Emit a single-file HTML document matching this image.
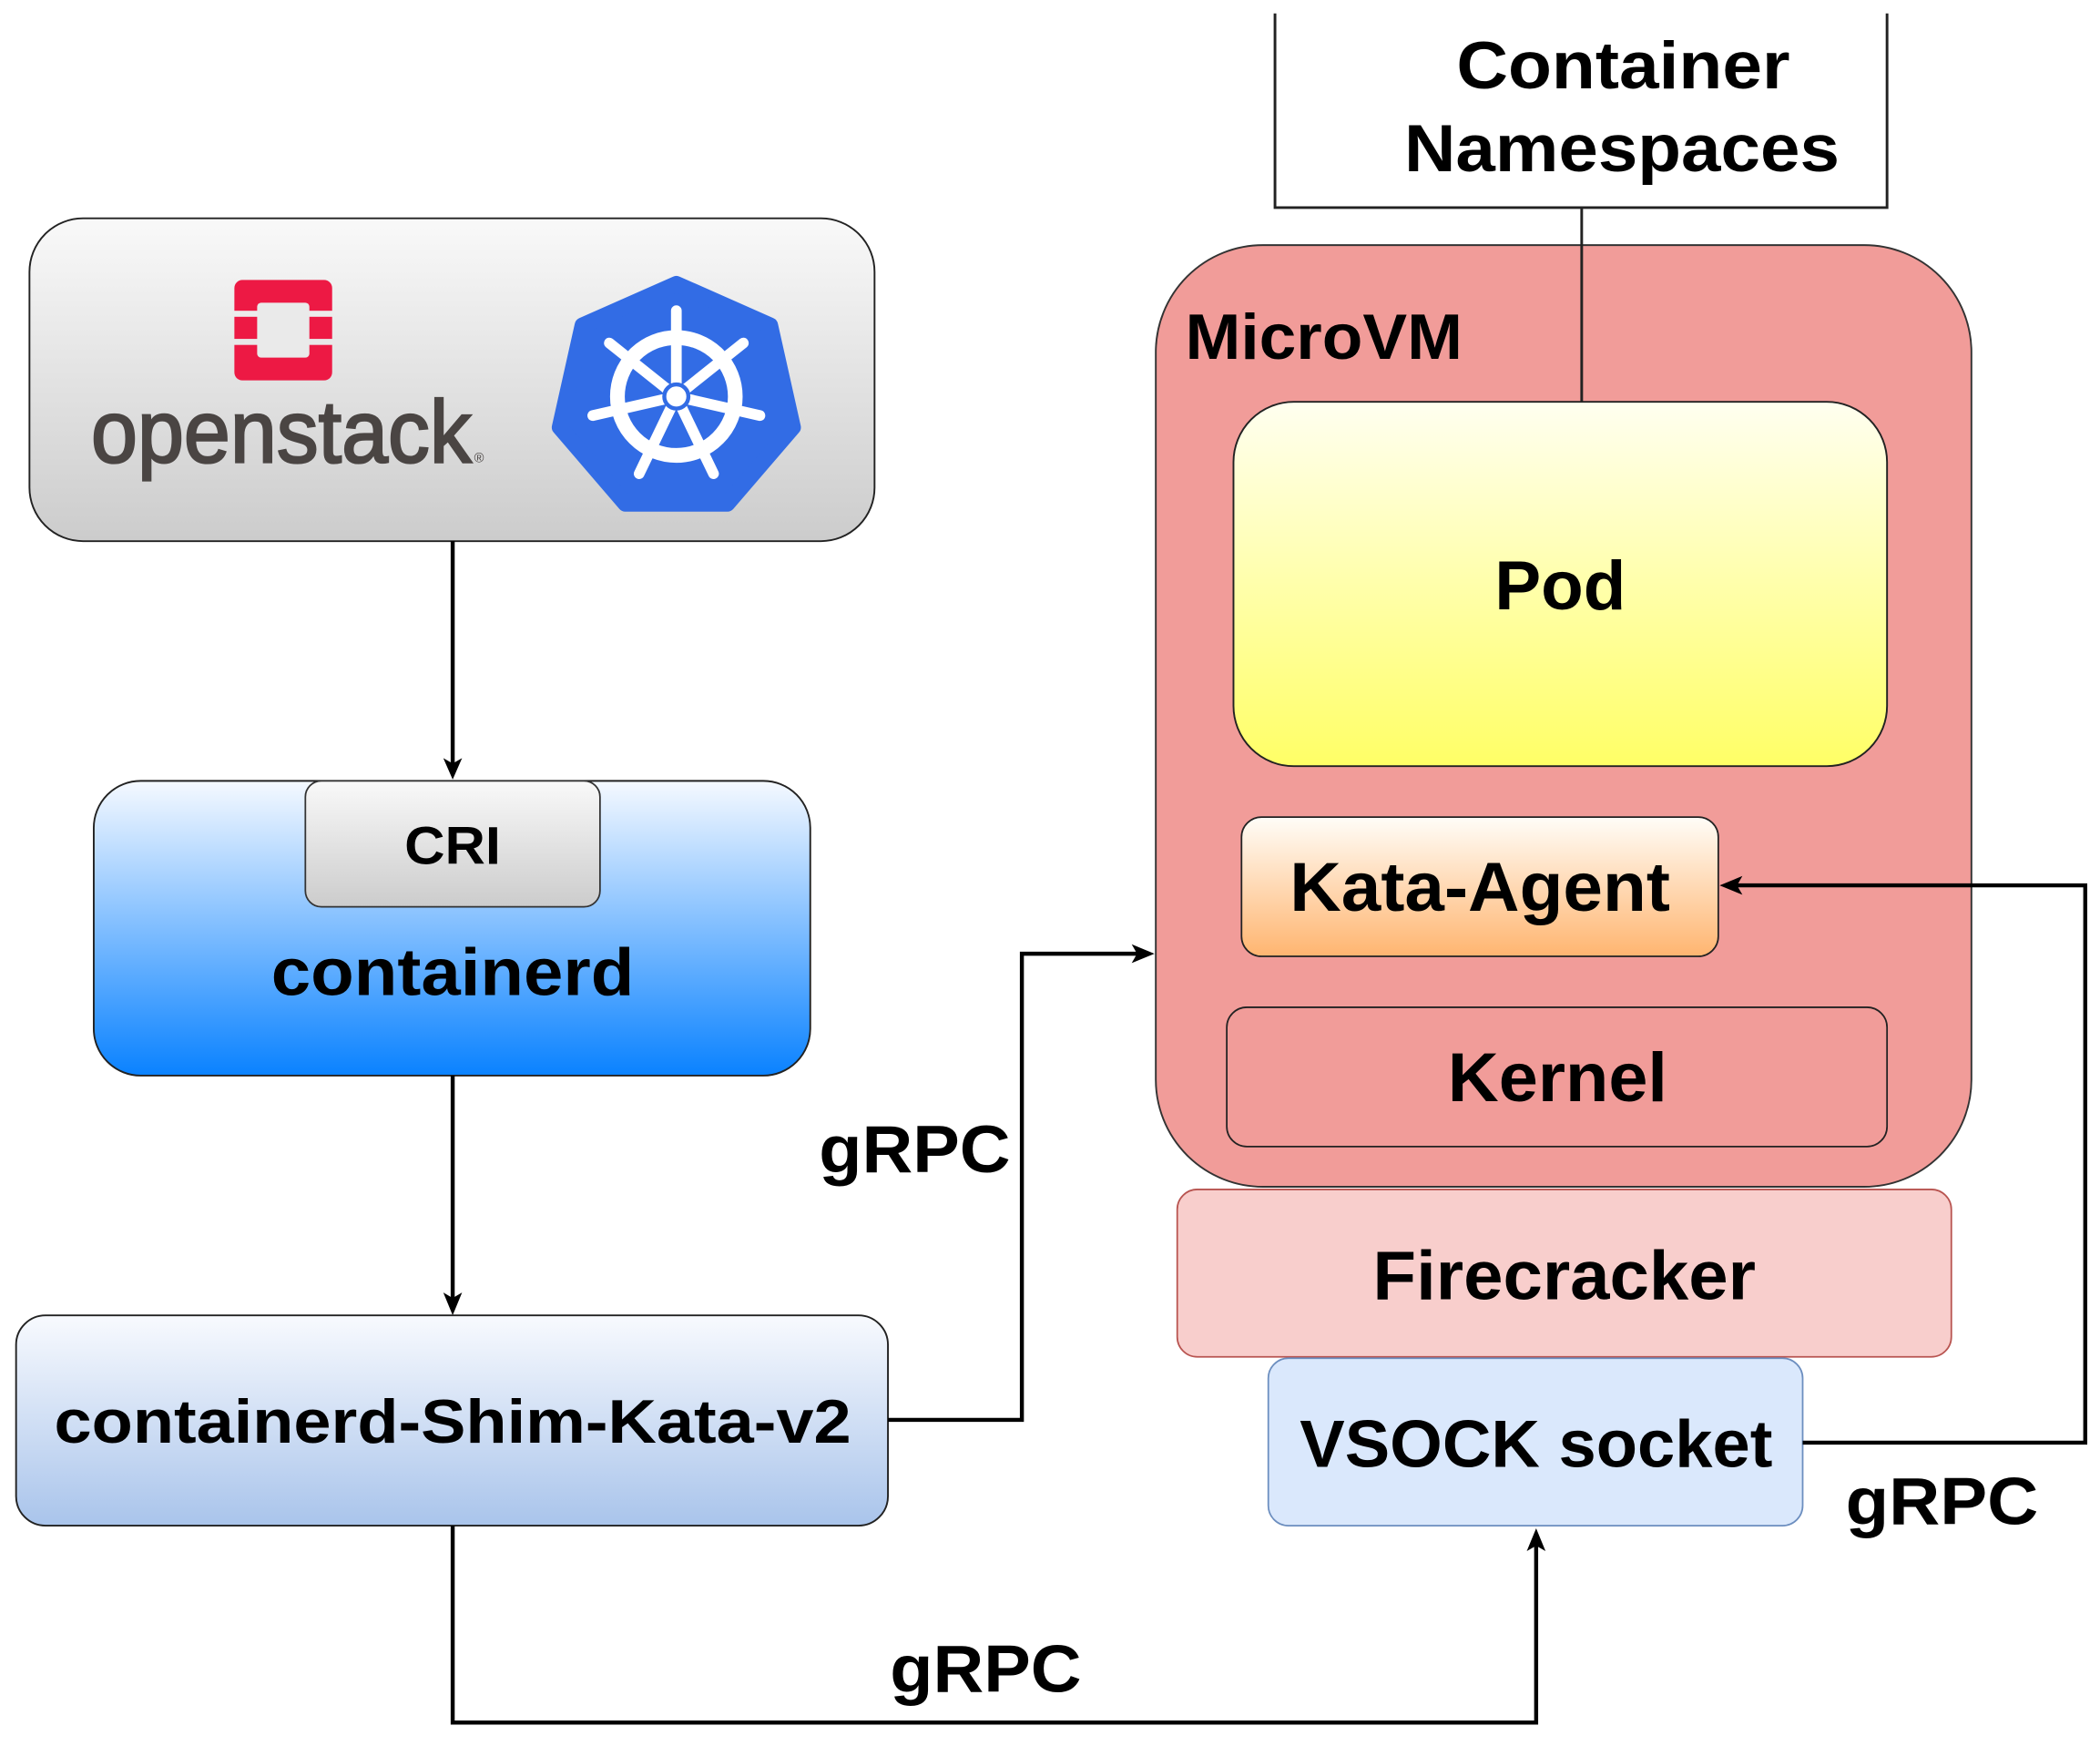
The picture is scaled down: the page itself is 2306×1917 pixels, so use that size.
<!DOCTYPE html>
<html><head><meta charset="utf-8"><style>
html,body{margin:0;padding:0;background:#fff;}
svg{display:block;}
text{font-family:"Liberation Sans",Arial,sans-serif;font-weight:bold;fill:#000;}
</style></head><body>
<svg width="2306" height="1917" viewBox="0 0 1568 1303.5" xmlns="http://www.w3.org/2000/svg">
<defs>
<linearGradient id="gGray" x1="0" y1="0" x2="0" y2="1"><stop offset="0" stop-color="#f9f9f9"/><stop offset="1" stop-color="#cccccc"/></linearGradient>
<linearGradient id="gBlue" x1="0" y1="0" x2="0" y2="1"><stop offset="0" stop-color="#f5f9ff"/><stop offset="1" stop-color="#0a82ff"/></linearGradient>
<linearGradient id="gShim" x1="0" y1="0" x2="0" y2="1"><stop offset="0" stop-color="#f8fafe"/><stop offset="1" stop-color="#a9c4eb"/></linearGradient>
<linearGradient id="gPod" x1="0" y1="0" x2="0" y2="1"><stop offset="0" stop-color="#fffff0"/><stop offset="1" stop-color="#ffff66"/></linearGradient>
<linearGradient id="gKata" x1="0" y1="0" x2="0" y2="1"><stop offset="0" stop-color="#fffdf8"/><stop offset="1" stop-color="#ffb570"/></linearGradient>
</defs>

<rect x="22" y="163" width="631" height="241" rx="40" fill="url(#gGray)" stroke="#222" stroke-width="1.3"/>
<rect x="175" y="209" width="73" height="75" rx="6" fill="#ed1944"/>
<rect x="174" y="232" width="75" height="4.5" fill="#ececec"/>
<rect x="174" y="253" width="75" height="4.5" fill="#e8e8e8"/>
<rect x="192" y="226" width="39" height="41" rx="3" fill="#eaeaea"/>
<text x="68" y="345" font-size="66" textLength="284" lengthAdjust="spacingAndGlyphs" style="font-weight:normal;fill:#4a4543;stroke:#4a4543;stroke-width:1.6">openstack</text>
<text x="354" y="345" font-size="10" style="font-weight:normal;fill:#4a4543">®</text>
<polygon points="505,212 575,243 592,319 543,376 467,376 418,319 435,243" fill="#326ce5" stroke="#326ce5" stroke-width="12" stroke-linejoin="round"/>
<g transform="translate(505,296)" stroke="#fff" stroke-linecap="round" fill="none">
<circle r="44" stroke-width="11"/>
<g stroke-width="8">
<line x1="0" y1="0" x2="0" y2="-64"/>
<line x1="0" y1="0" x2="0" y2="-64" transform="rotate(51.43)"/>
<line x1="0" y1="0" x2="0" y2="-64" transform="rotate(102.86)"/>
<line x1="0" y1="0" x2="0" y2="-64" transform="rotate(154.29)"/>
<line x1="0" y1="0" x2="0" y2="-64" transform="rotate(205.71)"/>
<line x1="0" y1="0" x2="0" y2="-64" transform="rotate(257.14)"/>
<line x1="0" y1="0" x2="0" y2="-64" transform="rotate(308.57)"/>
</g>
<circle r="9" fill="#fff" stroke="#326ce5" stroke-width="3"/>
</g>

<line x1="338" y1="404" x2="338" y2="572" stroke="#000" stroke-width="3"/>
<polygon points="338,582 331,566 338,570 345,566" fill="#000"/>

<rect x="70" y="583" width="535" height="220" rx="35" fill="url(#gBlue)" stroke="#222" stroke-width="1.3"/>
<rect x="228" y="583" width="220" height="94" rx="12" fill="url(#gGray)" stroke="#333" stroke-width="1.2"/>
<text x="338" y="645" font-size="40" text-anchor="middle" textLength="72" lengthAdjust="spacingAndGlyphs">CRI</text>
<text x="338" y="743" font-size="50" text-anchor="middle" textLength="271" lengthAdjust="spacingAndGlyphs">containerd</text>

<line x1="338" y1="803" x2="338" y2="971" stroke="#000" stroke-width="3"/>
<polygon points="338,982 331,965 338,969 345,965" fill="#000"/>

<rect x="12" y="982" width="651" height="157" rx="22" fill="url(#gShim)" stroke="#222" stroke-width="1.3"/>
<text x="338" y="1077" font-size="46" text-anchor="middle" textLength="595" lengthAdjust="spacingAndGlyphs">containerd-Shim-Kata-v2</text>

<polyline points="663,1060 763,1060 763,712 852,712" fill="none" stroke="#000" stroke-width="3"/>
<polygon points="862,712 845,705 849,712 845,719" fill="#000"/>
<text x="683" y="875" font-size="50" text-anchor="middle" textLength="143" lengthAdjust="spacingAndGlyphs">gRPC</text>

<polyline points="338,1139 338,1286 1147,1286 1147,1152" fill="none" stroke="#000" stroke-width="3"/>
<polygon points="1147,1141 1140,1158 1147,1154 1154,1158" fill="#000"/>
<text x="736" y="1263" font-size="50" text-anchor="middle" textLength="143" lengthAdjust="spacingAndGlyphs">gRPC</text>

<polyline points="952,10 952,155 1409,155 1409,10" fill="none" stroke="#222" stroke-width="2"/>

<rect x="863" y="183" width="609" height="703" rx="80" fill="#f19c99" stroke="#333" stroke-width="1.3"/>
<text x="885" y="268" font-size="48" textLength="207" lengthAdjust="spacingAndGlyphs">MicroVM</text>
<line x1="1181" y1="155" x2="1181" y2="300" stroke="#222" stroke-width="2"/>

<text x="1212" y="66" font-size="50" text-anchor="middle" textLength="249" lengthAdjust="spacingAndGlyphs">Container</text>
<text x="1211" y="128" font-size="50" text-anchor="middle" textLength="325" lengthAdjust="spacingAndGlyphs">Namespaces</text>

<rect x="921" y="300" width="488" height="272" rx="45" fill="url(#gPod)" stroke="#222" stroke-width="1.3"/>
<text x="1165" y="455" font-size="52" text-anchor="middle" textLength="98" lengthAdjust="spacingAndGlyphs">Pod</text>

<rect x="927" y="610" width="356" height="104" rx="15" fill="url(#gKata)" stroke="#222" stroke-width="1.2"/>
<text x="1105" y="680" font-size="52" text-anchor="middle" textLength="284" lengthAdjust="spacingAndGlyphs">Kata-Agent</text>

<rect x="916" y="752" width="493" height="104" rx="15" fill="#f19c99" stroke="#222" stroke-width="1.2"/>
<text x="1163" y="822" font-size="52" text-anchor="middle" textLength="164" lengthAdjust="spacingAndGlyphs">Kernel</text>

<rect x="879" y="888" width="578" height="125" rx="15" fill="#f8cecc" stroke="#b85450" stroke-width="1.2"/>
<text x="1168" y="970" font-size="52" text-anchor="middle" textLength="286" lengthAdjust="spacingAndGlyphs">Firecracker</text>

<rect x="947" y="1014" width="399" height="125" rx="15" fill="#dae8fc" stroke="#6c8ebf" stroke-width="1.2"/>
<text x="1147" y="1095" font-size="50" text-anchor="middle" textLength="353" lengthAdjust="spacingAndGlyphs">VSOCK socket</text>

<polyline points="1346,1077 1557,1077 1557,661 1295,661" fill="none" stroke="#000" stroke-width="3"/>
<polygon points="1284,661 1301,654 1297,661 1301,668" fill="#000"/>
<text x="1450" y="1138" font-size="50" text-anchor="middle" textLength="144" lengthAdjust="spacingAndGlyphs">gRPC</text>
</svg>
</body></html>
